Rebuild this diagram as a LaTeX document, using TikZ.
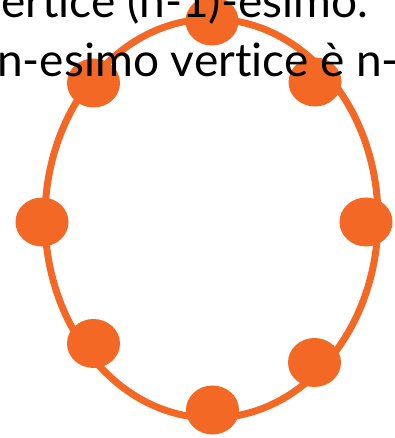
\documentclass[tikz,border=0pt]{standalone}
\usepackage{fontspec}
\setmainfont{Lato}[Ligatures=CommonOff]
\usetikzlibrary{shapes.geometric}
\definecolor{Ring}{HTML}{F36824}
\tikzset{
 ring/.style={draw=Ring, line width=7pt},
 vertex/.style={ellipse, fill=Ring, inner sep=0pt, minimum width=53pt, minimum height=49pt},
 caption/.style={anchor=base west, inner sep=0pt, font=\fontsize{46}{55}\selectfont}
}
\begin{document}
\begin{tikzpicture}[x=1pt,y=-1pt]
\useasboundingbox (0,0) rectangle (395,438);
\clip (0,0) rectangle (395,438);
\draw[ring] (211.5,218.5) ellipse [x radius=166.5, y radius=199.5];
% vertici
\node[vertex] (top) at (212,21) {};
\node[vertex] (topright) at (315,82) {};
\node[vertex] (right) at (366,222) {};
\node[vertex] (botright) at (314.5,362.5) {};
\node[vertex] (bottom) at (212.5,410) {};
\node[vertex] (botleft) at (93.5,343.5) {};
\node[vertex] (left) at (42,222) {};
\node[vertex] (topleft) at (93.5,83) {};
% testo
\node[caption] (lineone) at (-22,18) {vertice (n-1)-esimo.};
\node[caption] (linetwo) at (-3,77) {n-esimo vertice è n-};
\end{tikzpicture}
\end{document}
